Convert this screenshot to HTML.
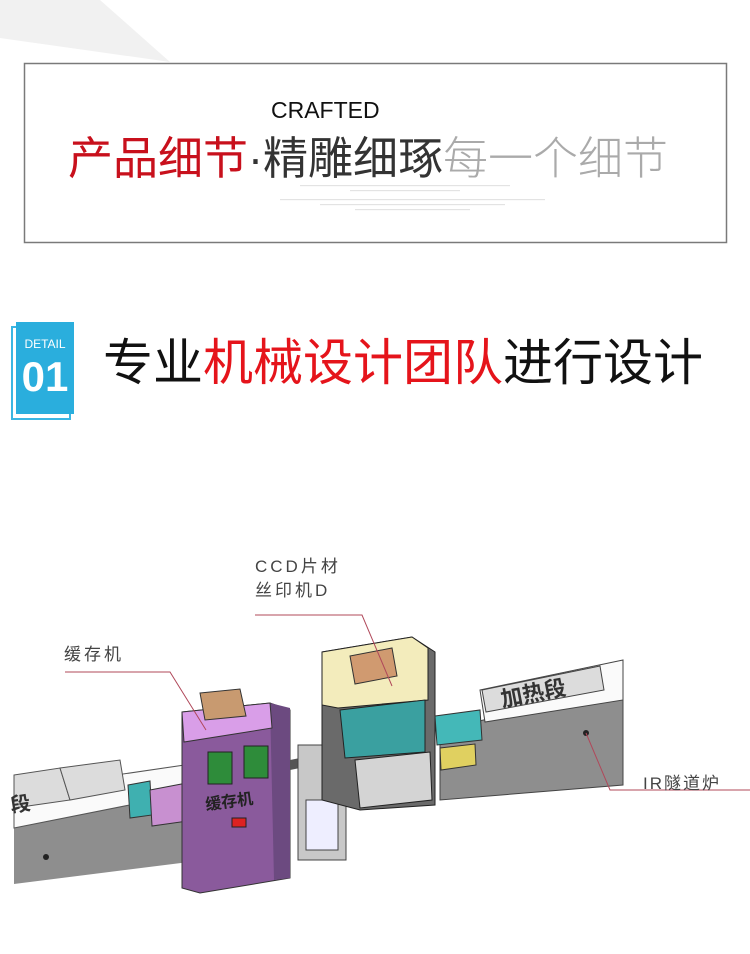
<!DOCTYPE html>
<html><head><meta charset="utf-8"><style>
html,body{margin:0;padding:0;background:#fff;}
body{width:750px;height:954px;position:relative;overflow:hidden;font-family:"Liberation Sans","Noto Sans CJK SC",sans-serif;}
.abs{position:absolute;}
</style></head><body>
<svg class="abs" style="left:0;top:0" width="750" height="954" viewBox="0 0 750 954">
  <polygon points="0,0 100,0 170,62 0,38" fill="#f1f1f1"/>
  <rect x="24.5" y="63.5" width="702" height="179" fill="#fff" stroke="#7a7a7a" stroke-width="1.5"/>
  <g fill="#e3e3e3">
    <rect x="300" y="185" width="210" height="1.2"/>
    <rect x="350" y="190" width="110" height="1.2"/>
    <rect x="280" y="199" width="265" height="1.2"/>
    <rect x="320" y="204" width="185" height="1.2"/>
    <rect x="355" y="209" width="115" height="1.2"/>
  </g>
  <rect x="12" y="327" width="58" height="92" fill="#fff" stroke="#3bb6e2" stroke-width="2"/>
  <rect x="16" y="322" width="58" height="92" fill="#2aaedd"/>

  <polygon points="14,800 205,770 205,860 14,884" fill="#8e8e8e"/>
  <polygon points="14,790 205,762 205,790 14,828" fill="#fafafa" stroke="#555" stroke-width="1"/>
  <polygon points="14,775 60,768 70,800 14,808" fill="#dcdcdc" stroke="#555"/>
  <polygon points="60,768 120,760 125,790 70,800" fill="#dcdcdc" stroke="#555"/>
  <polygon points="128,785 150,781 152,815 130,818" fill="#3fb0b0" stroke="#333"/>
  <polygon points="150,790 192,782 195,820 152,826" fill="#c890d0" stroke="#333"/>
  <circle cx="46" cy="857" r="3" fill="#222"/>
  <polygon points="182,712 270,703 290,710 290,878 200,893 182,888" fill="#8a5a9c" stroke="#333"/>
  <polygon points="270,703 290,708 290,878 274,880" fill="#6c4a80"/>
  <polygon points="182,712 270,703 272,728 184,742" fill="#d99ee8" stroke="#333"/>
  <polygon points="200,693 240,689 246,716 205,720" fill="#c89a70" stroke="#333"/>
  <rect x="208" y="752" width="24" height="32" fill="#2e8c3a" stroke="#222"/>
  <rect x="244" y="746" width="24" height="32" fill="#2e8c3a" stroke="#222"/>
  <rect x="232" y="818" width="14" height="9" fill="#d22" stroke="#222"/>
  <polygon points="290,760 330,752 330,762 290,770" fill="#555"/>
  <polygon points="420,720 450,715 450,722 420,728" fill="#444"/>
  <rect x="298" y="745" width="48" height="115" fill="#c8c8c8" stroke="#444"/>
  <rect x="306" y="800" width="32" height="50" fill="#eef" stroke="#444"/>
  <polygon points="322,652 412,637 435,652 435,805 360,810 322,800" fill="#6a6a6a" stroke="#222"/>
  <polygon points="322,652 412,637 428,648 428,700 338,708 322,705" fill="#f3ecbc" stroke="#222"/>
  <polygon points="350,656 392,648 397,676 355,684" fill="#d09a70" stroke="#333"/>
  <polygon points="340,710 425,700 425,752 345,758" fill="#3aa0a0" stroke="#222"/>
  <polygon points="355,760 430,752 432,800 360,808" fill="#d4d4d4" stroke="#222"/>
  <polygon points="440,730 623,688 623,785 440,800" fill="#8e8e8e" stroke="#444"/>
  <polygon points="480,690 623,660 623,700 485,722" fill="#fafafa" stroke="#444"/>
  <polygon points="482,690 600,666 604,690 486,712" fill="#dcdcdc" stroke="#444"/>
  <polygon points="435,716 480,710 482,740 437,745" fill="#44b8b8" stroke="#333"/>
  <polygon points="440,748 475,744 476,765 441,770" fill="#e0d060" stroke="#333"/>
  <circle cx="586" cy="733" r="3" fill="#222"/>
  <g stroke="#b0485a" stroke-width="1" fill="none">
    <polyline points="255,615 362,615 392,686"/>
    <polyline points="65,672 170,672 206,730"/>
    <polyline points="586,733 610,790 750,790"/>
  </g>
</svg>
<div class="abs" style="left:271px;top:97px;font-size:23px;color:#111;">CRAFTED</div>
<div class="abs" style="left:68px;top:133px;font-size:45px;line-height:52px;white-space:nowrap;">
<span style="color:#c8101c">产品细节</span><span style="color:#333">·精雕细琢</span><span style="color:#aaa;font-weight:300">每一个细节</span></div>
<div class="abs" style="left:16px;top:337px;width:58px;text-align:center;color:#fff;font-size:12px;">DETAIL</div>
<div class="abs" style="left:16px;top:352px;width:58px;text-align:center;color:#fff;font-size:42px;font-weight:bold;line-height:50px;">01</div>
<div class="abs" style="left:103px;top:334px;font-size:50px;line-height:58px;white-space:nowrap;color:#111;">专业<span style="color:#e5141b">机械设计团队</span>进行设计</div>
<div class="abs" style="left:255px;top:555px;font-size:17px;letter-spacing:3px;color:#444;line-height:24px;">CCD片材<br>丝印机D</div>
<div class="abs" style="left:64px;top:640px;font-size:17px;letter-spacing:3px;color:#444;">缓存机</div>
<div class="abs" style="left:643px;top:769px;font-size:17px;letter-spacing:2px;color:#444;">IR隧道炉</div>
<div class="abs" style="left:500px;top:676px;font-size:22px;font-weight:bold;color:#333;transform:rotate(-11deg);">加热段</div>
<div class="abs" style="left:10px;top:788px;font-size:20px;font-weight:bold;color:#333;transform:rotate(-9deg);">段</div>
<div class="abs" style="left:205px;top:788px;font-size:16px;font-weight:bold;color:#222;transform:rotate(-8deg);">缓存机</div>
</body></html>
